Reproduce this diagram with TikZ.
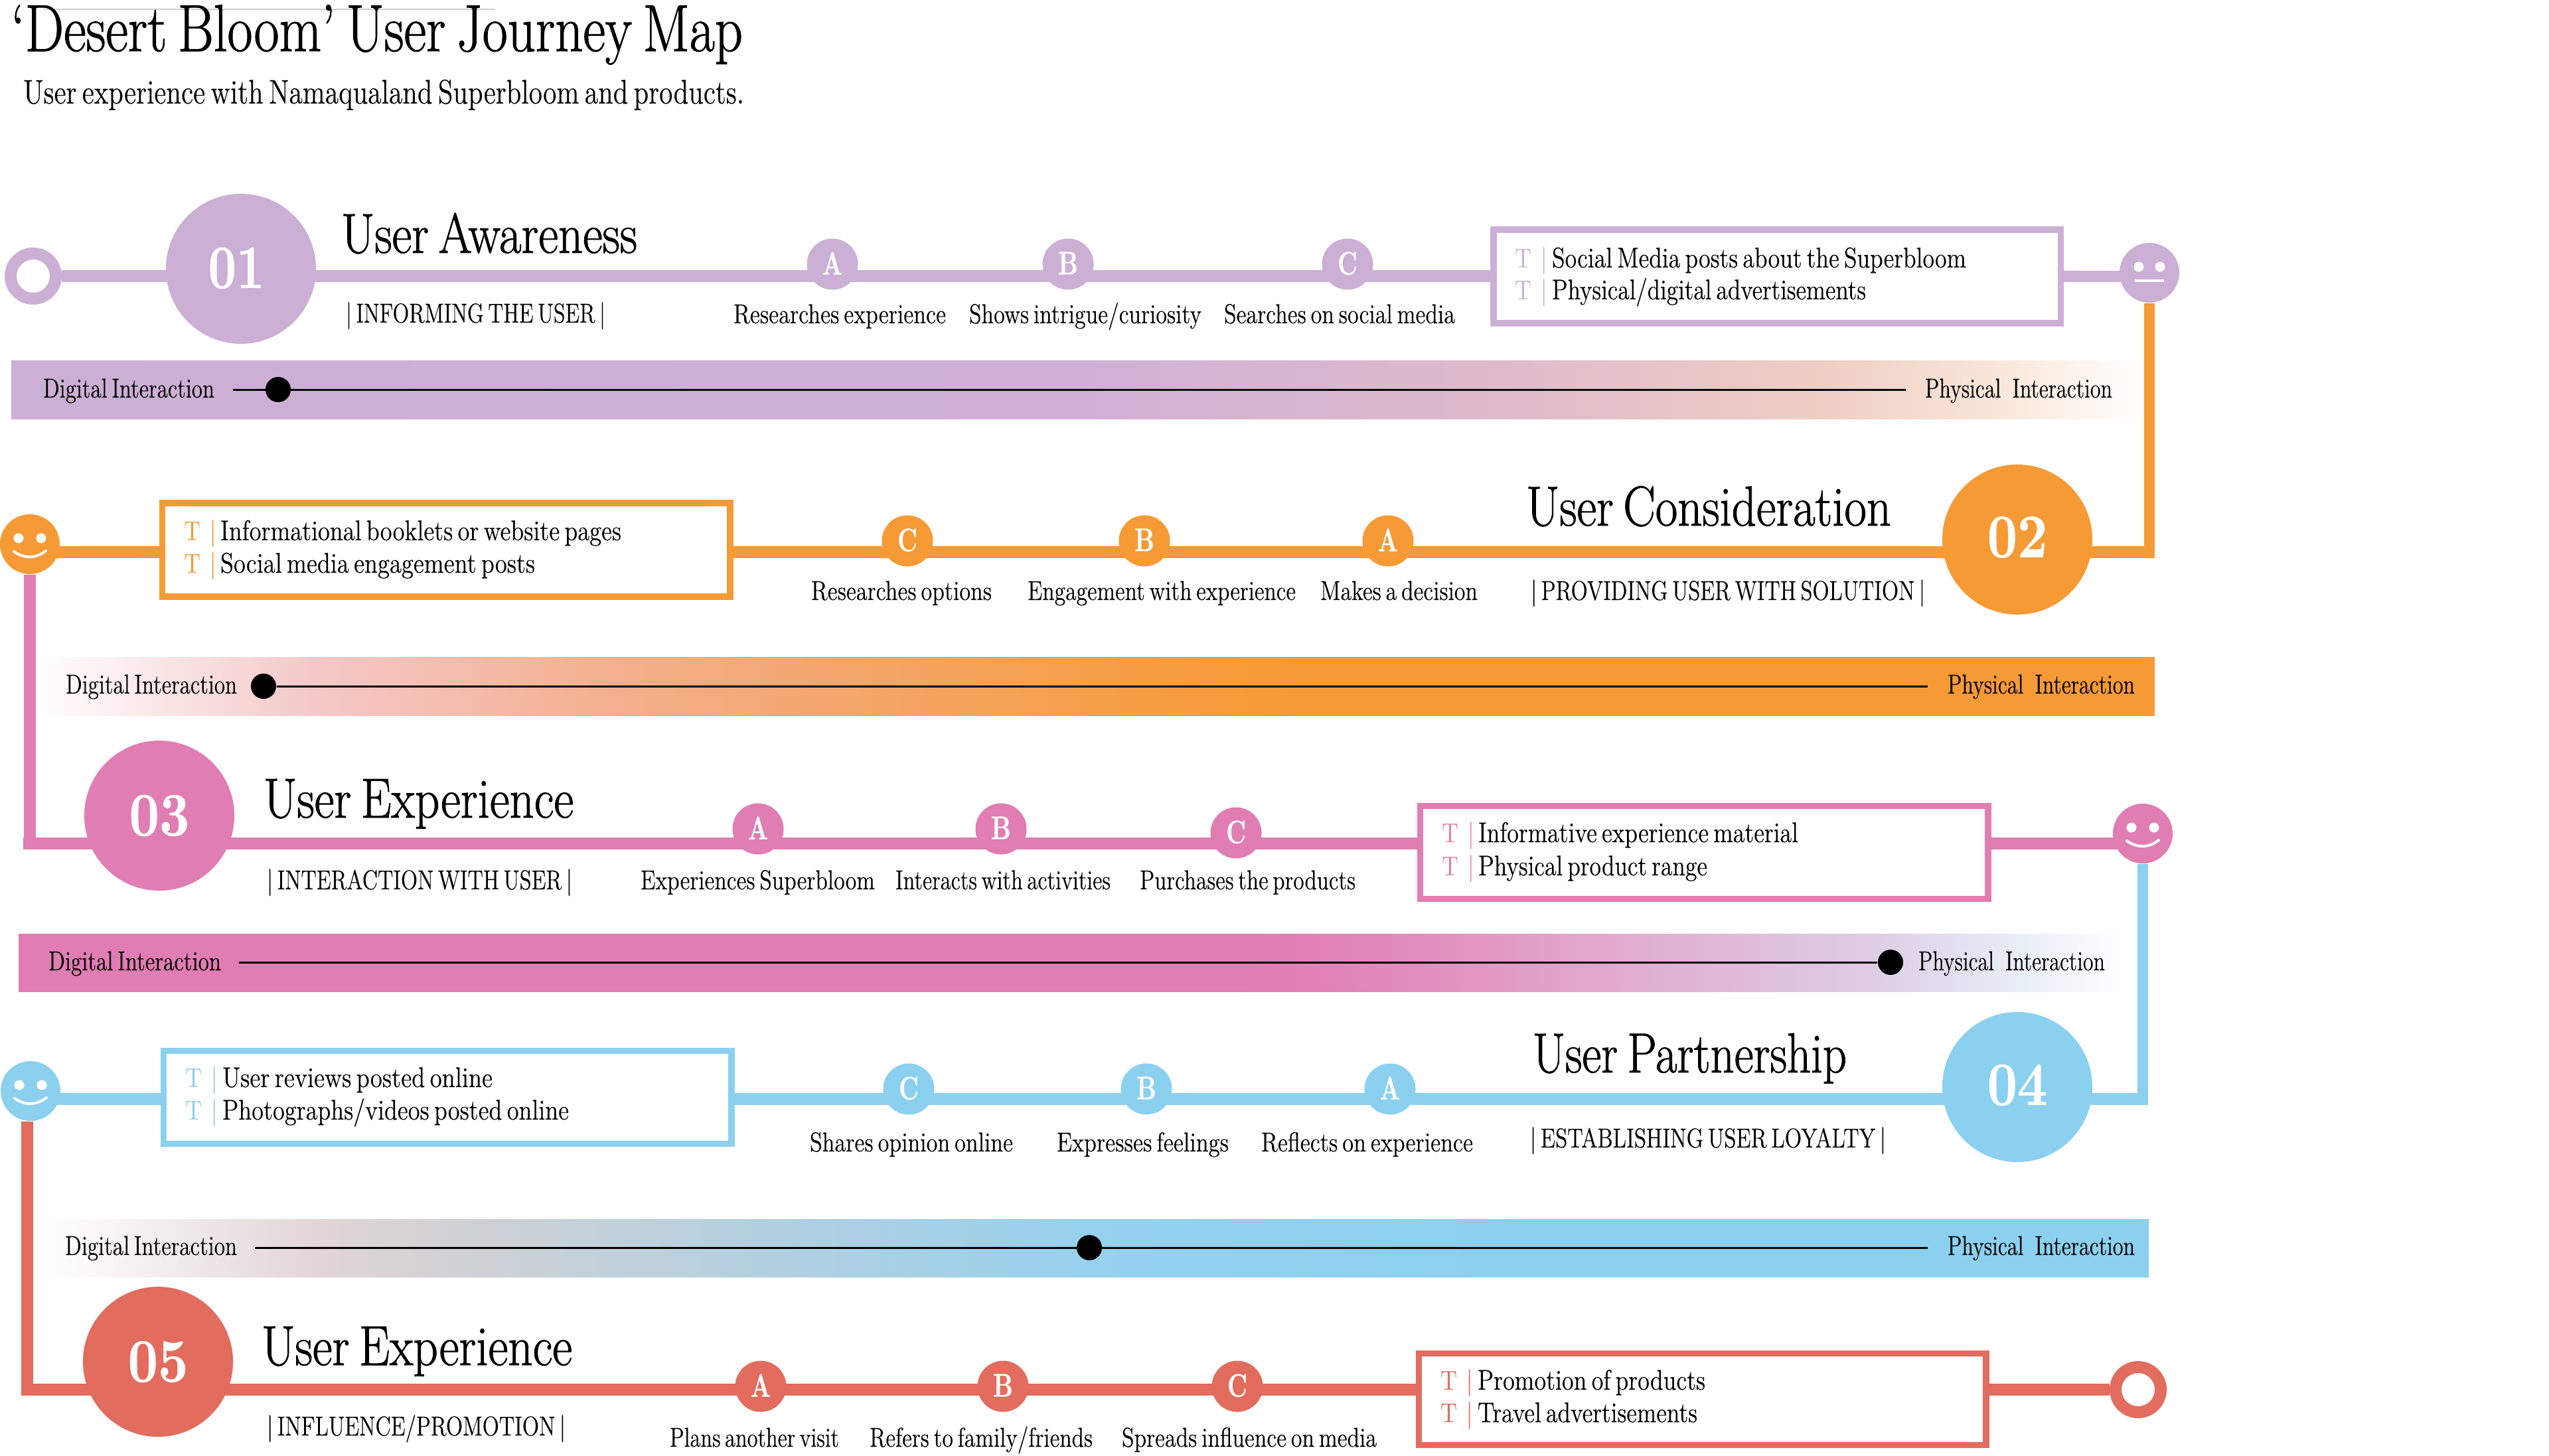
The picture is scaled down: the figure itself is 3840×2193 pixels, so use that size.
\documentclass[tikz,border=0pt]{standalone}
\usepackage{graphicx}
\usepackage{fontspec}
\setmainfont{lmroman10-regular.otf}[BoldFont=lmroman10-bold.otf]
\newfontfamily\hvyf{lmroman17-regular.otf}[FakeBold=1.1]
\newfontfamily\medf{lmroman12-regular.otf}[FakeBold=0.35]
\newfontfamily\digf{lmroman10-bold.otf}[FakeBold=0.5]
\usetikzlibrary{backgrounds,calc}
\definecolor{cpur}{HTML}{CCAFD5}
\definecolor{cora}{HTML}{F69A35}
\definecolor{cpin}{HTML}{E07DB3}
\definecolor{cblu}{HTML}{8BD0EF}
\definecolor{cred}{HTML}{E26C5E}
\definecolor{ba}{HTML}{D0B0D6}\definecolor{bb}{HTML}{DDBBCB}\definecolor{bc}{HTML}{EECFC4}\definecolor{bd}{HTML}{F9E6D8}
\definecolor{ca}{HTML}{F4C9C9}\definecolor{cb}{HTML}{F4AE8A}\definecolor{cc}{HTML}{F59F48}
\definecolor{da}{HTML}{E2A0C6}\definecolor{db}{HTML}{DDCDE4}\definecolor{dc}{HTML}{E8EEF7}\definecolor{de}{HTML}{E189BB}
\definecolor{ea}{HTML}{E2D5D5}\definecolor{eb}{HTML}{CFD1D4}\definecolor{ec}{HTML}{B5D0DF}\definecolor{ed}{HTML}{96D1EE}
\pgfdeclarehorizontalshading{shbarA}{100bp}{color(0bp)=(cpur);color(25bp)=(cpur);color(50bp)=(ba);color(60bp)=(bb);color(67.5bp)=(bc);color(71.5bp)=(bd);color(75bp)=(white);color(100bp)=(white)}
\pgfdeclarehorizontalshading{shbarB}{100bp}{color(0bp)=(white);color(25bp)=(white);color(31.5bp)=(ca);color(39bp)=(cb);color(50bp)=(cc);color(55bp)=(cora);color(100bp)=(cora)}
\pgfdeclarehorizontalshading{shbarC}{100bp}{color(0bp)=(cpin);color(54bp)=(cpin);color(57.5bp)=(de);color(61bp)=(da);color(69bp)=(db);color(72.5bp)=(dc);color(75bp)=(white);color(100bp)=(white)}
\pgfdeclarehorizontalshading{shbarD}{100bp}{color(0bp)=(white);color(25bp)=(white);color(31.5bp)=(ea);color(35bp)=(eb);color(41.5bp)=(ec);color(50bp)=(ed);color(60bp)=(cblu);color(100bp)=(cblu)}
\newcommand\tw[2]{\resizebox{#1\dimexpr0.01cm\relax}{\height}{\spaceskip=.2em\relax #2}}
\newcommand\fsz[1]{\fontsize{#1}{#1}\selectfont}
\newcommand\tbar[1]{\makebox[#1\dimexpr0.01cm\relax][l]{\tw{25}{T}}|}
\tikzset{
  txt/.style={inner sep=0pt,outer sep=0pt,anchor=base west,text=black},
  ttl/.style={txt,font=\hvyf\fsz{28.5}},
  sttl/.style={txt,font=\medf\fsz{14.6}},
  head/.style={txt,font=\hvyf\fsz{24.2}},
  lab/.style={txt,font=\medf\fsz{11.7}},
  boxt/.style={txt,font=\medf\fsz{12.2}},
  ringnode/.style={circle,draw=#1,fill=white,line width=0.18cm,minimum size=0.68cm,inner sep=0pt},
  bignode/.style={circle,fill=#1,minimum size=2.26cm,inner sep=0pt,text=white,font=\digf\fsz{26.5}},
  smallnode/.style={circle,fill=#1,minimum size=0.77cm,inner sep=0pt,text=white,font=\digf\fsz{14}},
  facenode/.style={circle,fill=#1,minimum size=0.9cm,inner sep=0pt},
  boxnode/.style={rectangle,draw=#1,fill=white,line width=0.095cm,inner sep=0pt},
  barnode/.style={rectangle,inner sep=0pt,outer sep=0pt,minimum height=0.87cm},
  rowline/.style={draw=#1,line width=0.175cm,line cap=butt},
  slider/.style={draw=black,line width=0.03cm},
  dotnode/.style={circle,fill=black,minimum size=0.38cm,inner sep=0pt},
  feat/.style={draw=white,line width=0.04cm,line cap=round},
  eye/.style={fill=white},
  tmark/.style={txt,font=\fsz{11.7},text=#1}
}
\newcommand\faceeyes[1]{\fill[eye] ($(#1)+(-17,-9)$) circle (0.075cm) ($(#1)+(17,-9)$) circle (0.075cm);}
\newcommand\facesmile[1]{\faceeyes{#1}\draw[feat] ($(#1)+(-24,11)$) .. controls ($(#1)+(-9,22)$) and ($(#1)+(9,22)$) .. ($(#1)+(24,10)$);}
\newcommand\faceblank[1]{\fill[eye] ($(#1)+(-16,-9)$) circle (0.075cm) ($(#1)+(16,-9)$) circle (0.075cm);\draw[draw=white,line width=0.04cm] ($(#1)+(-22,12)$) -- ($(#1)+(22,12)$);}
\newcommand\ltr[1]{\raisebox{0.03cm}{\tw{30}{#1}}}
\begin{document}
\begin{tikzpicture}[x=0.01cm,y=-0.01cm]
\useasboundingbox (0,0) rectangle (3840,2193);
% title
\coordinate (gl1) at (66,14);\coordinate (gl2) at (746,14);
\draw[draw=black!18,line width=0.012cm] (gl1) -- (gl2);
\node[ttl] (title) at (17,77) {\tw{1102}{‘Desert Bloom’ User Journey Map}};
\node[sttl] (subtitle) at (35,156) {\tw{1086}{User experience with Namaqualand Superbloom and products.}};

% ROW 1
\node[ringnode=cpur] (start) at (50,416) {};
\node[bignode=cpur] (big1) at (363,405) {\raisebox{0.03cm}{\hspace{-0.14cm}\tw{85}{01}}};
\node[head] (h1) at (514,381) {\tw{446}{User Awareness}};
\node[lab] (s1) at (521,486) {\tw{391}{| INFORMING THE USER |}};
\node[smallnode=cpur] (a1) at (1254,398) {\ltr{A}};
\node[smallnode=cpur] (b1) at (1609,398) {\ltr{B}};
\node[smallnode=cpur] (c1) at (2030,398) {\ltr{C}};
\node[lab] (la1) at (1105,487) {\tw{320}{Researches experience}};
\node[lab] (lb1) at (1460,487) {\tw{350}{Shows intrigue/curiosity}};
\node[lab] (lc1) at (1844,487) {\tw{348}{Searches on social media}};
\node[boxnode=cpur,minimum width=8.54cm,minimum height=1.41cm] (box1) at (2677,416.5) {};
\node[tmark=cpur] (t1a) at (2282,403) {\tbar{38}};
\node[tmark=cpur] (t1b) at (2282,451) {\tbar{38}};
\node[boxt] (bt1a) at (2338,403) {\tw{624}{Social Media posts about the Superbloom}};
\node[boxt] (bt1b) at (2338,451) {\tw{473}{Physical/digital advertisements}};
\node[facenode=cpur] (face1) at (3238,411) {};
\faceblank{face1}
\begin{scope}[on background layer]
\draw[rowline=cpur] (start) -- (box1.west |- start);
\draw[rowline=cpur] (box1.east) -- (box1.east -| face1);
\end{scope}

% BAR 1
\node[barnode,shading=shbarA,minimum width=32.1cm] (bar1) at (1623,587.5) {};
\node[lab] (d1) at (65,599) {\tw{258}{Digital Interaction}};
\node[lab] (p1) at (2900,599) {\tw{282}{Physical\,\, Interaction}};
\coordinate (sl1a) at (351,587);\coordinate (sl1b) at (2871,587);
\draw[slider] (sl1a) -- (sl1b);
\node[dotnode] (dot1) at (419,587) {};

% ROW 2
\coordinate (l2) at (0,832);
\coordinate (r2) at (3238,832);
\node[bignode=cora] (big2) at (3039,813) {\raisebox{0.08cm}{\tw{91}{02}}};
\node[head] (h2) at (2299,792) {\tw{550}{User Consideration}};
\node[lab] (s2) at (2306,904) {\tw{594}{| PROVIDING USER WITH SOLUTION |}};
\node[smallnode=cora] (c2) at (1367,815) {\ltr{C}};
\node[smallnode=cora] (b2) at (1724,815) {\ltr{B}};
\node[smallnode=cora] (a2) at (2091,815) {\ltr{A}};
\node[lab] (lc2) at (1222,904) {\tw{272}{Researches options}};
\node[lab] (lb2) at (1548,904) {\tw{404}{Engagement with experience}};
\node[lab] (la2) at (1989,904) {\tw{237}{Makes a decision}};
\node[boxnode=cora,minimum width=8.55cm,minimum height=1.41cm] (box2) at (672,828.5) {};
\node[tmark=cora] (t2a) at (277,814) {\tbar{38}};
\node[tmark=cora] (t2b) at (277,863) {\tbar{38}};
\node[boxt] (bt2a) at (332,814) {\tw{604}{Informational booklets or website pages}};
\node[boxt] (bt2b) at (332,863) {\tw{474}{Social media engagement posts}};
\node[facenode=cora] (face2) at (45,820) {};
\facesmile{face2}
\begin{scope}[on background layer]
\draw[rowline=cora] (face2 |- l2) -- (box2.west |- l2);
\draw[rowline=cora] (box2.east |- l2) -- (r2);
\draw[draw=cora,line width=0.165cm] (face1.south) -- (face1 |- r2);
\end{scope}
\fill[cora] ($(r2)+(-8,-8.5)$) rectangle ($(r2)+(8,8.5)$);

% BAR 2
\node[barnode,shading=shbarB,minimum width=31.9cm] (bar2) at (1650,1034.5) {};
\node[lab] (d2) at (99,1045) {\tw{258}{Digital Interaction}};
\node[lab] (p2) at (2934,1045) {\tw{282}{Physical\,\, Interaction}};
\node[dotnode] (dot2) at (397,1034) {};
\coordinate (sl2b) at (2904,1034);
\draw[slider] (dot2) -- (sl2b);

% ROW 3
\coordinate (l3) at (43,1271);
\node[bignode=cpin] (big3) at (240,1229) {\tw{91}{03}};
\node[head] (h3) at (397,1232) {\tw{467}{User Experience}};
\node[lab] (s3) at (402,1340) {\tw{460}{| INTERACTION WITH USER |}};
\node[smallnode=cpin] (a3) at (1142,1249) {\ltr{A}};
\node[smallnode=cpin] (b3) at (1508,1249) {\ltr{B}};
\node[smallnode=cpin] (c3) at (1862,1255) {\ltr{C}};
\node[lab] (la3) at (965,1340) {\tw{353}{Experiences Superbloom}};
\node[lab] (lb3) at (1349,1340) {\tw{324}{Interacts with activities}};
\node[lab] (lc3) at (1717,1340) {\tw{325}{Purchases the products}};
\node[boxnode=cpin,minimum width=8.55cm,minimum height=1.4cm] (box3) at (2567,1284.5) {};
\node[tmark=cpin] (t3a) at (2172,1269) {\tbar{38}};
\node[tmark=cpin] (t3b) at (2172,1319) {\tbar{38}};
\node[boxt] (bt3a) at (2227,1269) {\tw{482}{Informative experience material}};
\node[boxt] (bt3b) at (2227,1319) {\tw{345}{Physical product range}};
\node[facenode=cpin] (face3) at (3228,1256) {};
\facesmile{face3}
\begin{scope}[on background layer]
\draw[draw=cpin,line width=0.17cm] (face2.south) -- ($(face2.south |- l3)+(0,8.5)$);
\draw[rowline=cpin] ($(l3)+(-8.5,0)$) -- (box3.west |- l3);
\draw[rowline=cpin] (box3.east |- l3) -- (face3 |- l3);
\end{scope}

% BAR 3
\node[barnode,shading=shbarC,minimum width=31.7cm] (bar3) at (1614,1451) {};
\node[lab] (d3) at (73,1462) {\tw{260}{Digital Interaction}};
\node[lab] (p3) at (2890,1462) {\tw{281}{Physical\,\, Interaction}};
\node[dotnode] (dot3) at (2848,1450) {};
\coordinate (sl3a) at (360,1450);
\draw[slider] (sl3a) -- (dot3);

% ROW 4
\coordinate (l4) at (0,1656);
\coordinate (r4) at (3228,1656);
\node[bignode=cblu] (big4) at (3039,1638) {\raisebox{0.07cm}{\tw{91}{04}}};
\node[head] (h4) at (2309,1616) {\tw{473}{User Partnership}};
\node[lab] (s4) at (2305,1729) {\tw{536}{| ESTABLISHING USER LOYALTY |}};
\node[smallnode=cblu] (c4) at (1369,1641) {\ltr{C}};
\node[smallnode=cblu] (b4) at (1727,1641) {\ltr{B}};
\node[smallnode=cblu] (a4) at (2094,1641) {\ltr{A}};
\node[lab] (lc4) at (1220,1735) {\tw{306}{Shares opinion online}};
\node[lab] (lb4) at (1592,1735) {\tw{259}{Expresses feelings}};
\node[lab] (la4) at (1900,1735) {\tw{319}{Reflects on experience}};
\node[boxnode=cblu,minimum width=8.55cm,minimum height=1.4cm] (box4) at (674,1653.5) {};
\node[tmark=cblu] (t4a) at (279,1638) {\tbar{38}};
\node[tmark=cblu] (t4b) at (279,1687) {\tbar{38}};
\node[boxt] (bt4a) at (335,1638) {\tw{407}{User reviews posted online}};
\node[boxt] (bt4b) at (335,1687) {\tw{522}{Photographs/videos posted online}};
\node[facenode=cblu] (face4) at (46,1644) {};
\facesmile{face4}
\begin{scope}[on background layer]
\draw[rowline=cblu] (face4 |- l4) -- (box4.west |- l4);
\draw[rowline=cblu] (box4.east |- l4) -- (r4);
\draw[draw=cblu,line width=0.165cm] (face3.south) -- (face3 |- r4);
\end{scope}
\fill[cblu] ($(r4)+(-8,-8.5)$) rectangle ($(r4)+(8,8.5)$);

% BAR 4
\node[barnode,shading=shbarD,minimum width=31.68cm] (bar4) at (1652,1881) {};
\node[lab] (d4) at (98,1891) {\tw{259}{Digital Interaction}};
\node[lab] (p4) at (2934,1891) {\tw{282}{Physical\,\, Interaction}};
\node[dotnode] (dot4) at (1641,1880) {};
\coordinate (sl4a) at (384,1880);\coordinate (sl4b) at (2904,1880);
\draw[slider] (sl4a) -- (sl4b);

% ROW 5
\coordinate (l5) at (41,2094);
\node[bignode=cred] (big5) at (238,2052) {\tw{91}{05}};
\node[head] (h5) at (394,2057) {\tw{468}{User Experience}};
\node[lab] (s5) at (402,2163) {\tw{450}{| INFLUENCE/PROMOTION |}};
\node[smallnode=cred] (a5) at (1146,2089) {\ltr{A}};
\node[smallnode=cred] (b5) at (1511,2089) {\ltr{B}};
\node[smallnode=cred] (c5) at (1864,2089) {\ltr{C}};
\node[lab] (la5) at (1009,2180) {\tw{255}{Plans another visit}};
\node[lab] (lb5) at (1310,2180) {\tw{336}{Refers to family/friends}};
\node[lab] (lc5) at (1690,2180) {\tw{384}{Spreads influence on media}};
\node[boxnode=cred,minimum width=8.54cm,minimum height=1.38cm] (box5) at (2564.5,2108.5) {};
\node[tmark=cred] (t5a) at (2170,2094) {\tbar{38}};
\node[tmark=cred] (t5b) at (2170,2143) {\tbar{38}};
\node[boxt] (bt5a) at (2226,2094) {\tw{343}{Promotion of products}};
\node[boxt] (bt5b) at (2226,2143) {\tw{331}{Travel advertisements}};
\node[ringnode=cred] (endr) at (3221,2094) {};
\begin{scope}[on background layer]
\draw[draw=cred,line width=0.17cm] (face4.south -| l5) -- ($(l5)+(0,8.5)$);
\draw[rowline=cred] ($(l5)+(-8.5,0)$) -- (box5.west |- l5);
\draw[rowline=cred] (box5.east |- l5) -- (endr);
\end{scope}
\end{tikzpicture}
\end{document}
